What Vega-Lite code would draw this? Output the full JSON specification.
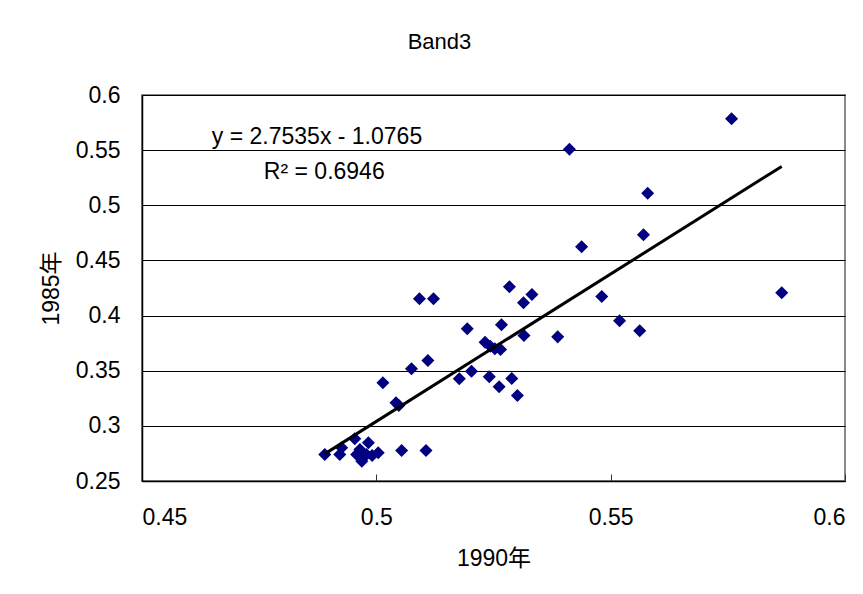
{
  "$schema": "https://vega.github.io/schema/vega-lite/v6.json",
  "width": 703,
  "height": 386,
  "autosize": {"type": "none"},
  "padding": {"left": 142, "top": 95, "right": 18, "bottom": 113},
  "background": "white",
  "title": {"text": "Band3", "fontSize": 22, "font": "Liberation Sans", "fontWeight": "normal", "baseline": "alphabetic", "offset": 13, "dx": -54, "color": "black"},
  "config": {
    "view": {"stroke": "#888888", "strokeWidth": 2},
    "axis": {"labelFont": "Liberation Sans", "labelFontSize": 23, "labelColor": "black", "titleFont": "Liberation Sans, Noto Sans CJK JP", "titleFontSize": 23, "titleFontWeight": "normal", "titleColor": "black", "domainColor": "black", "domainWidth": 1.5, "tickColor": "#333333"}
  },
  "data": {"values": [
    {"x1990": 0.4890, "y1985": 0.2740},
    {"x1990": 0.4922, "y1985": 0.2740},
    {"x1990": 0.4926, "y1985": 0.2801},
    {"x1990": 0.4954, "y1985": 0.2883},
    {"x1990": 0.4958, "y1985": 0.2740},
    {"x1990": 0.4965, "y1985": 0.2786},
    {"x1990": 0.4969, "y1985": 0.2680},
    {"x1990": 0.4979, "y1985": 0.2740},
    {"x1990": 0.4983, "y1985": 0.2846},
    {"x1990": 0.4991, "y1985": 0.2731},
    {"x1990": 0.5004, "y1985": 0.2756},
    {"x1990": 0.5054, "y1985": 0.2777},
    {"x1990": 0.5106, "y1985": 0.2777},
    {"x1990": 0.5014, "y1985": 0.3390},
    {"x1990": 0.5042, "y1985": 0.3209},
    {"x1990": 0.5048, "y1985": 0.3185},
    {"x1990": 0.5075, "y1985": 0.3517},
    {"x1990": 0.5110, "y1985": 0.3593},
    {"x1990": 0.5092, "y1985": 0.4152},
    {"x1990": 0.5122, "y1985": 0.4152},
    {"x1990": 0.5194, "y1985": 0.3880},
    {"x1990": 0.5177, "y1985": 0.3427},
    {"x1990": 0.5203, "y1985": 0.3496},
    {"x1990": 0.5232, "y1985": 0.3759},
    {"x1990": 0.5243, "y1985": 0.3722},
    {"x1990": 0.5241, "y1985": 0.3445},
    {"x1990": 0.5253, "y1985": 0.3699},
    {"x1990": 0.5265, "y1985": 0.3692},
    {"x1990": 0.5262, "y1985": 0.3354},
    {"x1990": 0.5267, "y1985": 0.3916},
    {"x1990": 0.5284, "y1985": 0.4261},
    {"x1990": 0.5289, "y1985": 0.3429},
    {"x1990": 0.5301, "y1985": 0.3275},
    {"x1990": 0.5314, "y1985": 0.4116},
    {"x1990": 0.5315, "y1985": 0.3819},
    {"x1990": 0.5332, "y1985": 0.4191},
    {"x1990": 0.5387, "y1985": 0.3807},
    {"x1990": 0.5412, "y1985": 0.5509},
    {"x1990": 0.5438, "y1985": 0.4624},
    {"x1990": 0.5481, "y1985": 0.4173},
    {"x1990": 0.5519, "y1985": 0.3953},
    {"x1990": 0.5562, "y1985": 0.3862},
    {"x1990": 0.5570, "y1985": 0.4732},
    {"x1990": 0.5579, "y1985": 0.5110},
    {"x1990": 0.5758, "y1985": 0.5784},
    {"x1990": 0.5865, "y1985": 0.4206}
  ]},
  "layer": [
    {
      "mark": {"type": "point", "shape": "diamond", "filled": true, "color": "#000080", "size": 170, "opacity": 1},
      "encoding": {
        "x": {"field": "x1990", "type": "quantitative", "scale": {"domain": [0.45, 0.6], "nice": false, "zero": false},
              "axis": {"title": "1990年", "values": [0.45, 0.5, 0.55, 0.6], "format": "~g", "grid": false, "tickSize": -7, "labelPadding": 32, "titlePadding": 18}},
        "y": {"field": "y1985", "type": "quantitative", "scale": {"domain": [0.25, 0.6], "nice": false, "zero": false},
              "axis": {"title": "1985年", "values": [0.25, 0.3, 0.35, 0.4, 0.45, 0.5, 0.55, 0.6], "format": "~g", "grid": true, "gridColor": "black", "gridWidth": 1, "gridOpacity": 1, "ticks": false, "labelPadding": 22, "titlePadding": 12}}
      }
    },
    {
      "transform": [{"regression": "y1985", "on": "x1990"}],
      "mark": {"type": "line", "color": "black", "strokeWidth": 3},
      "encoding": {
        "x": {"field": "x1990", "type": "quantitative"},
        "y": {"field": "y1985", "type": "quantitative"}
      }
    },
    {
      "data": {"values": [{"label": "y = 2.7535x - 1.0765"}]},
      "mark": {"type": "text", "align": "left", "baseline": "alphabetic", "font": "Liberation Sans", "fontSize": 23, "color": "black"},
      "encoding": {"x": {"datum": 0.4649}, "y": {"datum": 0.5560}, "text": {"field": "label"}}
    },
    {
      "data": {"values": [{"label": "R² = 0.6946"}]},
      "mark": {"type": "text", "align": "left", "baseline": "alphabetic", "font": "Liberation Sans", "fontSize": 23, "color": "black"},
      "encoding": {"x": {"datum": 0.4760}, "y": {"datum": 0.5234}, "text": {"field": "label"}}
    }
  ]
}
